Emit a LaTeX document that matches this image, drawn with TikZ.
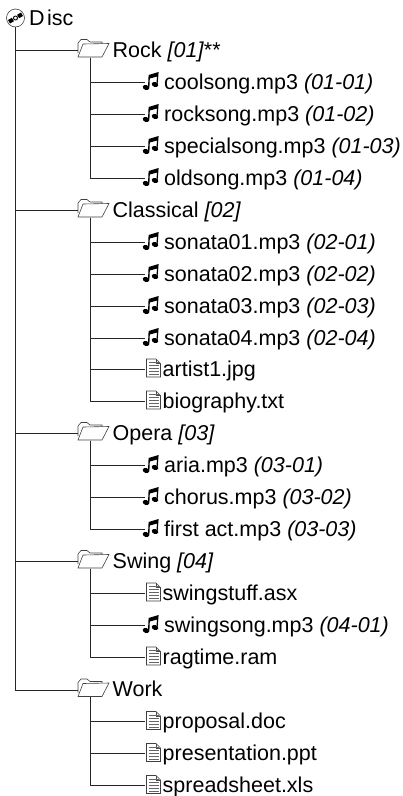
\documentclass[tikz,border=0pt]{standalone}
\usepackage{fontspec}
\setmainfont{Liberation Sans}
\tikzset{
  x=1pt,y=-1pt,
  conn/.style={draw=black!85,line width=0.9pt},
  lbl/.style={anchor=base west,inner sep=0pt,font=\fontsize{21.5}{24}\selectfont,text=black},
  iconbox/.style={inner sep=0pt,minimum width=16pt,minimum height=16pt},
  folderbox/.style={inner sep=0pt,minimum width=24pt,minimum height=14pt},
  discbox/.style={circle,inner sep=0pt,minimum size=18pt},
  outl/.style={draw=black!75,line width=0.6pt,fill=white},
  ink/.style={fill=black,draw=none},
}
\newcommand{\folderitem}[3]{%
  \node[folderbox] (#1) at (90,#2+0.5) {};
  \begin{scope}[shift={(0,#2)}]
    \draw[outl] (78,3) -- (78,-7) -- (81,-10.5) -- (87,-10.5) -- (90,-8) -- (102,-8) -- (102,-6);
    \draw[outl] (83,-6) -- (109,-6.5) -- (102,7) -- (78,7) -- cycle;
  \end{scope}
  \node[lbl] (#1t) at (112.5,#2+7.3) {#3};
}
\newcommand{\noteitem}[3]{%
  \node[iconbox] (#1) at (153,#2) {};
  \begin{scope}[shift={(0,#2)}]
    \fill[ink,rotate around={-20:(146,5.5)}] (146,5.5) ellipse [x radius=3.4,y radius=2.4];
    \fill[ink,rotate around={-20:(155,2.5)}] (155,2.5) ellipse [x radius=3.4,y radius=2.4];
    \fill[ink] (148,5.5) -- (148.6,-7) -- (158.6,-10) -- (157.6,2.5) -- (156.4,2.5) -- (157,-5.5) -- (149.8,-3.5) -- (149.4,5.5) -- cycle;
  \end{scope}
  \node[lbl] (#1t) at (164,#2+7.3) {#3};
}
\newcommand{\docitem}[3]{%
  \node[iconbox] (#1) at (153.5,#2) {};
  \begin{scope}[shift={(0,#2)}]
    \draw[outl] (146.5,-10) -- (156,-10) -- (160.5,-5.5) -- (160.5,8) -- (146.5,8) -- cycle;
    \draw[draw=black!70,line width=0.5pt] (156,-10) -- (156,-5.5) -- (160.5,-5.5);
    \foreach \q in {-6.5,-3.5,-0.5,2.5,5.5}{\draw[draw=black!60,line width=0.6pt] (149,\q) -- (158.5,\q);}
  \end{scope}
  \node[lbl] (#1t) at (162.5,#2+7.3) {#3};
}
\begin{document}
\begin{tikzpicture}
\useasboundingbox (0,0) rectangle (403,796);
\node[discbox] (disc) at (15,18) {};
\draw[outl] (15.5,18) circle [radius=9];
\fill[ink,rotate around={30:(15.5,18)}] (8,16) rectangle (12.5,20);
\fill[ink,rotate around={30:(15.5,18)}] (18.5,16) rectangle (23,20);
\draw[draw=black,line width=0.9pt,fill=white] (15.5,18) circle [radius=2];
\node[lbl] (disct) at (29,25.3) {D\kern2.5pt isc};
%
\folderitem{rock}{50}{Rock \textit{[01]}**}
\noteitem{a1}{82}{coolsong.mp3 \textit{(01-01)}}
\noteitem{a2}{114}{rocksong.mp3 \textit{(01-02)}}
\noteitem{a3}{146}{specialsong.mp3 \textit{(01-03)}}
\noteitem{a4}{178}{oldsong.mp3 \textit{(01-04)}}
\folderitem{classical}{210}{Classical \textit{[02]}}
\noteitem{b1}{242}{sonata01.mp3 \textit{(02-01)}}
\noteitem{b2}{274}{sonata02.mp3 \textit{(02-02)}}
\noteitem{b3}{306}{sonata03.mp3 \textit{(02-03)}}
\noteitem{b4}{338}{sonata04.mp3 \textit{(02-04)}}
\docitem{b5}{369}{artist1.jpg}
\docitem{b6}{401}{biography.txt}
\folderitem{opera}{433}{Opera \textit{[03]}}
\noteitem{c1}{465}{aria.mp3 \textit{(03-01)}}
\noteitem{c2}{497}{chorus.mp3 \textit{(03-02)}}
\noteitem{c3}{529}{first act.mp3 \textit{(03-03)}}
\folderitem{swing}{561}{Swing \textit{[04]}}
\docitem{d1}{593}{swingstuff.asx}
\noteitem{d2}{625}{swingsong.mp3 \textit{(04-01)}}
\docitem{d3}{657}{ragtime.ram}
\folderitem{work}{689.5}{Work}
\docitem{e1}{721.5}{proposal.doc}
\docitem{e2}{753.5}{presentation.ppt}
\docitem{e3}{785.5}{spreadsheet.xls}
%
\foreach \f in {rock,classical,opera,swing,work}{\draw[conn] (disc.south) |- (\f.west);}
\foreach \c in {a1,a2,a3,a4}{\draw[conn] (rock.south) |- (\c.west);}
\foreach \c in {b1,b2,b3,b4,b5,b6}{\draw[conn] (classical.south) |- (\c.west);}
\foreach \c in {c1,c2,c3}{\draw[conn] (opera.south) |- (\c.west);}
\foreach \c in {d1,d2,d3}{\draw[conn] (swing.south) |- (\c.west);}
\foreach \c in {e1,e2,e3}{\draw[conn] (work.south) |- (\c.west);}
\end{tikzpicture}
\end{document}
